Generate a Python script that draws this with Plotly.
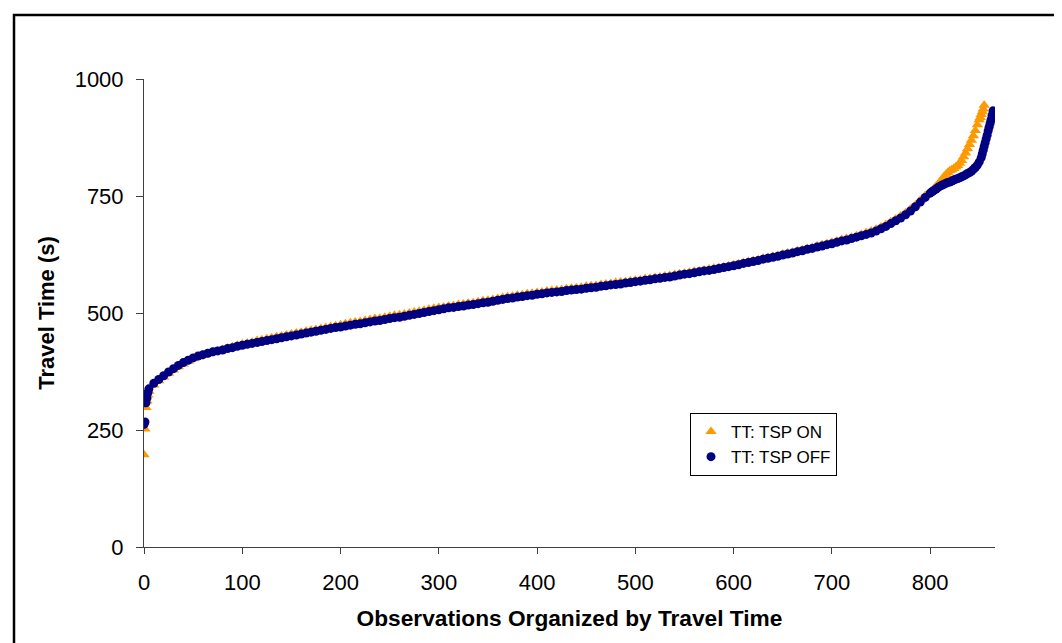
import plotly.graph_objects as go

# ---- data ----
on_obs = ([0, 1, 2, 3, 4] + list(range(5, 801, 5)) + list(range(802, 851, 2))
          + [851, 852, 853, 854, 855])
on_tt = [197, 252, 298, 312, 325,
         333, 346, 355, 363, 371, 378, 385, 391, 397, 402, 406, 410, 413, 416, 419, 422, 425, 428, 431, 434,
         436, 438, 441, 443, 445, 447, 449, 451, 453, 455, 457, 459, 461, 463, 465, 467, 469, 471, 473, 475,
         477, 479, 481, 482, 484, 486, 488, 489, 491, 493, 495, 496, 498, 500, 502, 504, 506, 508, 510, 512,
         513, 515, 516, 518, 519, 521, 522, 524, 526, 527, 529, 531, 533, 535, 536, 538, 539, 541, 542, 544,
         545, 547, 548, 549, 550, 552, 553, 554, 555, 557, 558, 559, 561, 562, 563, 565, 566, 567, 569, 570,
         571, 573, 574, 576, 577, 579, 580, 582, 584, 585, 587, 589, 590, 592, 594, 596, 597, 599, 601, 603,
         605, 608, 610, 612, 614, 617, 619, 621, 623, 626, 628, 630, 633, 635, 638, 640, 643, 646, 648, 651,
         654, 657, 659, 662, 665, 668, 672, 675, 679, 684, 689, 695, 701, 707, 714, 722, 731, 741, 751, 758,
         762, 766, 771, 775, 780, 786, 791, 796, 800, 804, 806, 809, 812, 815, 820, 826, 834, 842, 851, 860,
         869, 879, 890, 902, 913,
         918, 924, 930, 936, 944]

off_obs = ([0, 1, 2, 3, 4] + list(range(5, 801, 5)) + list(range(802, 853, 2))
           + list(range(853, 865)))
off_tt = [262, 267, 308, 318, 330,
          338, 350, 358, 366, 374, 381, 388, 394, 399, 404, 408, 411, 414, 417, 419, 421, 424, 426, 429, 431,
          433, 435, 437, 439, 441, 443, 445, 447, 449, 451, 453, 455, 457, 459, 461, 463, 465, 467, 469, 470,
          472, 474, 476, 477, 479, 481, 483, 484, 486, 488, 490, 491, 493, 495, 497, 499, 501, 503, 505, 507,
          509, 511, 512, 514, 515, 517, 518, 520, 522, 523, 525, 527, 529, 531, 532, 534, 535, 537, 538, 540,
          541, 543, 544, 545, 546, 548, 549, 550, 551, 553, 554, 555, 557, 558, 560, 561, 562, 564, 565, 567,
          568, 570, 571, 573, 574, 576, 577, 579, 581, 583, 584, 586, 588, 590, 591, 593, 595, 597, 599, 601,
          603, 606, 608, 610, 612, 615, 617, 619, 621, 624, 626, 628, 631, 633, 636, 638, 641, 643, 646, 648,
          651, 654, 656, 659, 662, 665, 668, 671, 675, 680, 685, 691, 697, 703, 710, 718, 727, 737, 747, 756,
          759, 762, 765, 768, 771, 773, 775, 777, 779, 780, 782, 784, 786, 787, 789, 791, 793, 795, 798, 800,
          803, 807, 811, 816, 823, 832,
          840, 848, 856, 864, 872, 880, 889, 897, 905, 913, 922, 932]

x_ticks = [0, 100, 200, 300, 400, 500, 600, 700, 800]
y_ticks = [0, 250, 500, 750, 1000]

FONT = "Liberation Sans, Arial, sans-serif"

fig = go.Figure()
fig.add_trace(go.Scatter(
    x=on_obs, y=on_tt, mode="markers", name="TT: TSP ON",
    legendgroup="on",
    marker=dict(symbol="triangle-up", size=10, color="#FF9900", line=dict(width=0)),
))
fig.add_trace(go.Scatter(
    x=off_obs, y=off_tt, mode="markers", name="TT: TSP OFF",
    legendgroup="off",
    marker=dict(symbol="circle", size=9, color="#000080", line=dict(width=0)),
))

# plot area: x 136..987 px, y 71..539 px
L, R, T, B = 136, 1062 - 987, 71, 643 - 539
pw, ph = 1062 - L - R, 643 - T - B

def px_x(p):
    return (p - L) / pw

def px_y(p):
    return (643 - B - p) / ph

fig.update_layout(
    width=1062, height=643,
    margin=dict(l=L, r=R, t=T, b=B, autoexpand=False),
    paper_bgcolor="white", plot_bgcolor="white",
    font=dict(family=FONT, color="black"),
    showlegend=True,
    legend=dict(
        x=px_x(682), y=px_y(405), xanchor="left", yanchor="top",
        bgcolor="white", bordercolor="black", borderwidth=1,
        font=dict(size=17, family=FONT, color="black"),
        traceorder="grouped", tracegroupgap=0,
        itemwidth=30,
    ),
    xaxis=dict(
        range=[0, 866], tickvals=x_ticks, ticktext=[str(v) for v in x_ticks],
        showgrid=False, zeroline=False,
        showline=True, linecolor="#404040", linewidth=1,
        ticks="outside", ticklen=6, tickcolor="#404040",
        tickfont=dict(size=22, family=FONT),
        ticklabelstandoff=10,
        title=dict(text="<b>Observations Organized by Travel Time</b>",
                   font=dict(size=22.7, family=FONT), standoff=15),
    ),
    yaxis=dict(
        range=[0, 1000], tickvals=y_ticks, ticktext=[str(v) for v in y_ticks],
        showgrid=False, zeroline=False,
        showline=True, linecolor="#404040", linewidth=1,
        ticks="outside", ticklen=7, tickcolor="#404040",
        tickfont=dict(size=22, family=FONT),
        ticklabelstandoff=8,
        title=dict(text="<b>Travel Time (s)</b>",
                   font=dict(size=22, family=FONT), standoff=13),
    ),
    shapes=[
        dict(type="rect", xref="paper", yref="paper",
             x0=px_x(6), x1=px_x(1200), y0=px_y(800), y1=px_y(7),
             line=dict(color="black", width=2.5), fillcolor="rgba(0,0,0,0)", layer="below"),
    ],
)

fig.write_html("out.html")
